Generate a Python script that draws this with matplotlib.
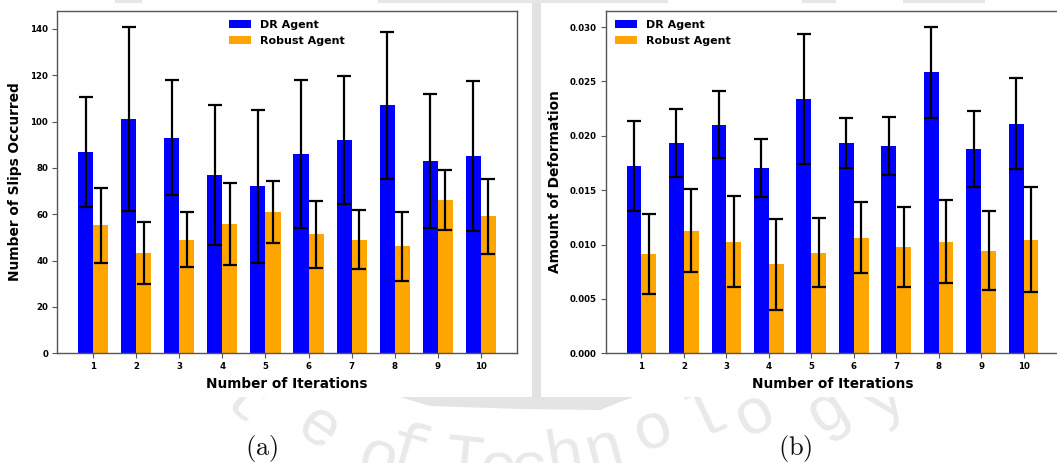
import numpy as np
import matplotlib
matplotlib.use("Agg")
import matplotlib.pyplot as plt
from matplotlib.patches import Rectangle, Polygon

# ---- data -------------------------------------------------------------
iterations = np.arange(1, 11)

slips_dr = [87.0, 101.0, 93.0, 77.0, 72.0, 86.0, 92.0, 107.0, 83.0, 85.0]
slips_dr_err = [23.7, 39.8, 24.9, 30.2, 33.0, 32.0, 27.7, 31.6, 29.1, 32.3]
slips_robust = [55.2, 43.2, 49.1, 56.0, 61.0, 51.3, 49.1, 46.1, 66.1, 59.2]
slips_robust_err = [16.1, 13.4, 11.7, 17.7, 13.3, 14.5, 12.9, 14.9, 13.0, 16.2]

deform_dr = [0.01726, 0.01934, 0.02103, 0.01702, 0.02342,
             0.01934, 0.01904, 0.02583, 0.01879, 0.02112]
deform_dr_err = [0.00413, 0.00314, 0.00306, 0.00268, 0.00597,
                 0.00228, 0.00266, 0.00418, 0.00352, 0.00421]
deform_robust = [0.00912, 0.01129, 0.01028, 0.00817, 0.00927,
                 0.01065, 0.00979, 0.01028, 0.00943, 0.01044]
deform_robust_err = [0.00369, 0.00378, 0.00416, 0.00415, 0.00317,
                     0.00329, 0.00367, 0.00383, 0.00363, 0.00484]

series_labels = ["DR Agent", "Robust Agent"]
x_label = "Number of Iterations"
y_labels = ["Number of Slips Occurred", "Amount of Deformation"]
captions = ["(a)", "(b)"]

# ---- figure -----------------------------------------------------------
W, H = 1057, 463
DPI = 100
plt.rcParams["mathtext.fontset"] = "cm"
fig = plt.figure(figsize=(W / DPI, H / DPI), dpi=DPI, facecolor="white")

# background layer in pixel coordinates (origin at top-left)
bg = fig.add_axes([0, 0, 1, 1], zorder=0)
bg.set_xlim(0, W)
bg.set_ylim(H, 0)
bg.axis("off")

wm_color = "#e9e9e9"
# faint watermark lettering running along an arc
wm_letters = [("t", 245, 404, -40), ("e", 318, 430, -35), ("o", 378, 460, -22),
              ("f", 408, 452, -16), ("T", 464, 462, -6), ("e", 498, 470, 0),
              ("c", 530, 470, 5), ("h", 564, 456, 10), ("n", 604, 450, 15),
              ("o", 653, 430, 20), ("l", 705, 415, 25), ("o", 755, 414, 28),
              ("g", 827, 410, 32), ("y", 885, 398, 36)]
for ch, px, py, rot in wm_letters:
    bg.text(px, py, ch, fontsize=47, family="Liberation Mono", color=wm_color,
            ha="center", va="center", rotation=rot, rotation_mode="anchor",
            zorder=1)

# white panel backgrounds
bg.add_patch(Rectangle((0, 3), 532, 394, facecolor="white", edgecolor="none", zorder=2))
bg.add_patch(Rectangle((541, 3), W - 541, 394, facecolor="white", edgecolor="none", zorder=2))

# grey strip between panels and ring fragments of the watermark emblem
bg.add_patch(Rectangle((532, 0), 9, 398, facecolor="#e2e2e2", edgecolor="none", zorder=1.5))
bg.add_patch(Polygon([(400, 397), (633, 397), (600, 410), (520, 409), (430, 406)],
                     closed=True, facecolor="#e4e4e4", edgecolor="none", zorder=1.5))
for x0, x1 in [(115, 142), (378, 668), (802, 836), (903, 985)]:
    bg.add_patch(Rectangle((x0, 0), x1 - x0, 3, facecolor="#e6e6e6",
                           edgecolor="none", zorder=1.5))

# panel captions
for txt, cx in zip(captions, [262, 795]):
    bg.text(cx, 448, r"$\mathrm{%s}$" % txt, fontsize=19, ha="center",
            va="center", color="#111111", zorder=3)

# ---- chart panels -----------------------------------------------------
def px_axes(left, right, top, bottom):
    return [left / W, (H - bottom) / H, (right - left) / W, (bottom - top) / H]

ax1 = fig.add_axes(px_axes(57.3, 516.7, 10.7, 353.3), zorder=1)
ax2 = fig.add_axes(px_axes(606.0, 1059.0, 10.7, 353.3), zorder=1)

bar_w = 0.35
err_kw = dict(ecolor="black", elinewidth=1.6, capthick=1.6)
spine_color = "#555555"

panels = [
    (ax1, slips_dr, slips_dr_err, slips_robust, slips_robust_err, y_labels[0],
     dict(loc="upper center")),
    (ax2, deform_dr, deform_dr_err, deform_robust, deform_robust_err, y_labels[1],
     dict(loc="upper left")),
]

for ax, dr, dr_err, rb, rb_err, ylab, leg_kw in panels:
    ax.bar(iterations - bar_w / 2, dr, bar_w, yerr=dr_err, color="blue",
           capsize=4.7, error_kw=err_kw, label=series_labels[0])
    ax.bar(iterations + bar_w / 2, rb, bar_w, yerr=rb_err, color="orange",
           capsize=4.7, error_kw=err_kw, label=series_labels[1])
    ax.set_xticks(iterations)
    ax.set_xlabel(x_label, fontsize=9.8, fontweight="bold", labelpad=4)
    ax.set_ylabel(ylab, fontsize=9.9, fontweight="bold", labelpad=6)
    ax.tick_params(axis="both", labelsize=6.2, length=3.5, width=0.8,
                   color=spine_color, pad=3)
    for lab in ax.get_xticklabels() + ax.get_yticklabels():
        lab.set_fontweight("bold")
    for sp in ax.spines.values():
        sp.set_color(spine_color)
        sp.set_linewidth(1.0)
    ax.legend(frameon=False, prop=dict(size=8, weight="bold"),
              handlelength=2.0, handleheight=0.7, labelspacing=0.6,
              borderaxespad=0.4, **leg_kw)

fig.savefig("out.png", dpi=DPI, facecolor="white")
